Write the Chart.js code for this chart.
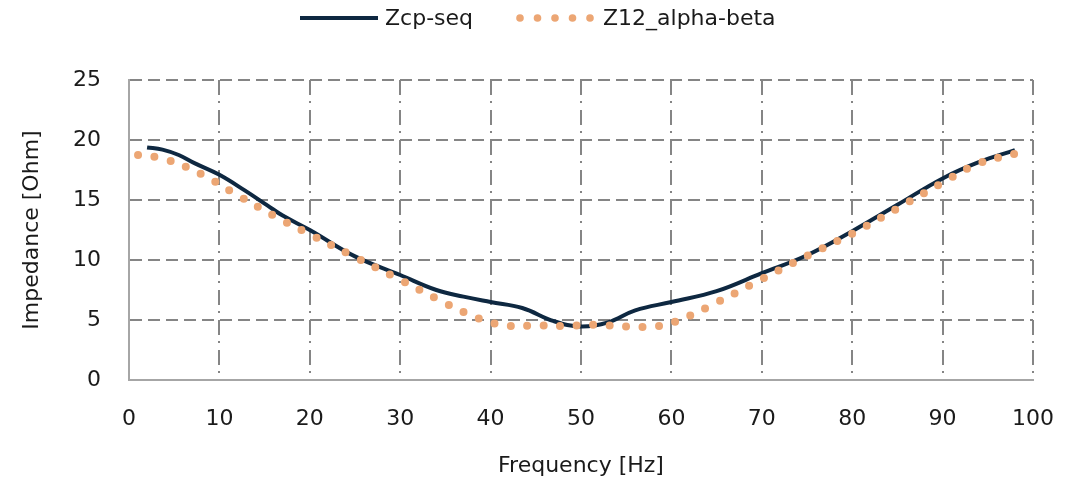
<!DOCTYPE html>
<html>
<head>
<meta charset="utf-8">
<script src="https://cdn.jsdelivr.net/npm/chart.js@4"></script>
<style>
  html, body { margin: 0; padding: 0; background: #fff; }
</style>
</head>
<body>
<canvas id="impChart" width="1080" height="486"></canvas>
<script>
// Zcp-seq (solid)
const seqFreq = [2, 3.7, 5.5, 7.3, 10, 12.8, 15.3, 17, 20, 25, 30, 34, 37, 40, 43.5, 47, 50, 53, 56, 60, 65, 70, 75, 80, 85, 90, 94, 98];
const seqZ    = [19.38, 19.2, 18.75, 18.05, 17.1, 15.8, 14.55, 13.7, 12.5, 10.3, 8.75, 7.5, 6.95, 6.5, 6.0, 4.9, 4.45, 4.8, 5.8, 6.5, 7.4, 8.9, 10.4, 12.4, 14.6, 16.8, 18.15, 19.15];

// Z12_alpha-beta (dotted)
const abFreq = [1, 4, 8, 12, 16, 20, 25, 30, 35, 38, 40, 42, 45, 48, 50, 52, 55, 58, 60, 62, 65, 70, 75, 80, 85, 90, 94, 98];
const abZ    = [18.75, 18.4, 17.15, 15.4, 13.7, 12.15, 10.25, 8.35, 6.4, 5.35, 4.8, 4.5, 4.55, 4.5, 4.55, 4.6, 4.45, 4.45, 4.75, 5.35, 6.45, 8.4, 10.35, 12.2, 14.3, 16.45, 18.05, 18.85];

const xTicks = [0, 10, 20, 30, 40, 50, 60, 70, 80, 90, 100];
const yTicks = [0, 5, 10, 15, 20, 25];

const toPoints = (xs, ys) => xs.map((x, i) => ({ x: x, y: ys[i] }));

Chart.defaults.font.family = '"DejaVu Sans", sans-serif';
Chart.defaults.font.size = 22;
Chart.defaults.color = '#1a1a1a';

// legend drawn by hand: long line sample + row of dots like the original
const lineLegend = {
  id: 'lineLegend',
  afterDraw(chart) {
    const ctx = chart.ctx;
    const seq = chart.data.datasets[0];
    const ab = chart.data.datasets[1];
    ctx.save();
    ctx.font = '22px "DejaVu Sans", sans-serif';
    ctx.textBaseline = 'middle';
    ctx.strokeStyle = seq.borderColor;
    ctx.lineWidth = 4;
    ctx.beginPath();
    ctx.moveTo(300, 18);
    ctx.lineTo(378, 18);
    ctx.stroke();
    ctx.fillStyle = '#1a1a1a';
    ctx.fillText(seq.label, 385, 19);
    ctx.fillStyle = ab.borderColor;
    for (let i = 0; i < 5; i++) {
      ctx.beginPath();
      ctx.arc(520 + i * 17.5, 18, 3.8, 0, Math.PI * 2);
      ctx.fill();
    }
    ctx.fillStyle = '#1a1a1a';
    ctx.fillText(ab.label, 603, 19);
    ctx.restore();
  }
};

new Chart(document.getElementById('impChart'), {
  type: 'line',
  data: {
    datasets: [{
      label: 'Zcp-seq',
      data: toPoints(seqFreq, seqZ),
      borderColor: '#0e2841',
      borderWidth: 4,
      pointRadius: 0,
      tension: 0.4,
      order: 2
    }, {
      label: 'Z12_alpha-beta',
      data: toPoints(abFreq, abZ),
      borderColor: '#eca674',
      borderWidth: 8,
      borderDash: [0, 16.5],
      borderCapStyle: 'round',
      pointRadius: 0,
      tension: 0.4,
      order: 1
    }]
  },
  options: {
    responsive: false,
    animation: false,
    layout: { padding: { top: 80, right: 38, bottom: 0, left: 0 } },
    plugins: {
      legend: { display: false },
      tooltip: { enabled: false }
    },
    scales: {
      x: {
        type: 'linear',
        min: 0,
        max: 100,
        afterBuildTicks: s => { s.ticks = xTicks.map(v => ({ value: v })); },
        afterFit: s => { s.height = 106; },
        ticks: { padding: 26 },
        grid: { color: '#858585', lineWidth: 2, drawTicks: false },
        border: { display: true, color: '#a6a6a6', width: 2, dash: [15, 6, 2, 7] },
        title: { display: true, text: 'Frequency [Hz]', padding: 7 }
      },
      y: {
        min: 0,
        max: 25,
        afterBuildTicks: s => { s.ticks = yTicks.map(v => ({ value: v })); },
        afterFit: s => { s.width = 129; },
        ticks: { padding: 28 },
        grid: { color: '#858585', lineWidth: 2, drawTicks: false },
        border: { display: true, color: '#a6a6a6', width: 2, dash: [12, 6] },
        title: { display: true, text: 'Impedance [Ohm]', padding: 19 }
      }
    }
  },
  plugins: [lineLegend]
});
</script>
</body>
</html>
